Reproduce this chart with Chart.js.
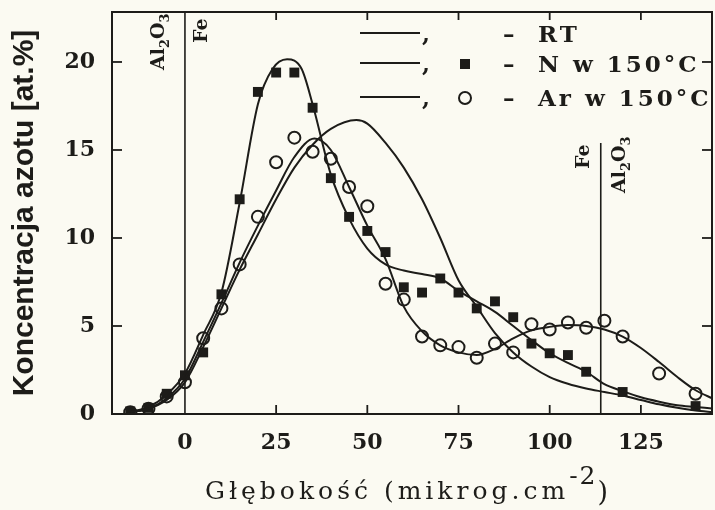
<!DOCTYPE html>
<html>
<head>
<meta charset="utf-8">
<script src="https://cdn.jsdelivr.net/npm/chart.js@4/dist/chart.umd.min.js"></script>
<style>
  html, body { margin: 0; padding: 0; background: #fbfaf2; overflow: hidden; }
  canvas { display: block; }
</style>
</head>
<body>
<canvas id="profile" width="720" height="510" style="width:720px;height:510px"></canvas>
<script>
// Measured nitrogen concentration [at.%] vs depth [µg/cm²]
const depthN     = [-15, -10, -5, 0, 5, 10, 15, 20, 25, 30, 35, 40, 45, 50, 55, 60, 65, 70, 75, 80, 85, 90, 95, 100, 105, 110, 120, 140];
const nitrogenN  = [0.15, 0.35, 1.15, 2.2, 3.5, 6.8, 12.2, 18.3, 19.4, 19.4, 17.4, 13.4, 11.2, 10.4, 9.2, 7.2, 6.9, 7.7, 6.9, 6.0, 6.4, 5.5, 4.0, 3.45, 3.35, 2.4, 1.25, 0.45];

const depthAr    = [-15, -10, -5, 0, 5, 10, 15, 20, 25, 30, 35, 40, 45, 50, 55, 60, 65, 70, 75, 80, 85, 90, 95, 100, 105, 110, 115, 120, 130, 140];
const nitrogenAr = [0.1, 0.3, 1.0, 1.8, 4.3, 6.0, 8.5, 11.2, 14.3, 15.7, 14.9, 14.5, 12.9, 11.8, 7.4, 6.5, 4.4, 3.9, 3.8, 3.2, 4.0, 3.5, 5.1, 4.8, 5.2, 4.9, 5.3, 4.4, 2.3, 1.15];

// Smooth profile curves
const fitDepthRT = [-15, -10, -5, 0, 5, 10, 15, 20, 25, 30, 35, 40, 47, 50, 55, 60, 65, 70, 75, 80, 85, 90, 95, 100, 105, 110, 115, 120, 125, 130, 135, 140, 145];
const fitRT      = [0.1, 0.3, 0.8, 1.8, 3.8, 6.0, 8.2, 10.2, 12.2, 14.0, 15.3, 16.2, 16.7, 16.5, 15.4, 14.0, 12.2, 10.0, 7.6, 6.1, 4.6, 3.5, 2.7, 2.1, 1.72, 1.45, 1.25, 1.05, 0.8, 0.55, 0.35, 0.2, 0.1];

const fitDepthN  = [-15, -10, -5, 0, 5, 10, 15, 20, 24, 28, 32, 35, 40, 45, 50, 55, 60, 65, 70, 75, 80, 85, 90, 95, 100, 105, 110, 115, 120, 125, 130, 135, 140, 145];
const fitN       = [0.12, 0.4, 1.1, 2.3, 4.5, 6.9, 12.0, 17.6, 19.6, 20.15, 19.6, 17.6, 13.6, 11.1, 9.4, 8.5, 8.15, 7.95, 7.7, 7.0, 6.4, 5.8, 5.0, 4.2, 3.45, 2.9, 2.4, 1.7, 1.3, 0.95, 0.7, 0.5, 0.4, 0.3];

const fitDepthAr = [-15, -10, -5, 0, 5, 10, 15, 20, 25, 30, 35.5, 40, 45, 50, 55, 60, 65, 70, 75, 80, 85, 90, 95, 100, 105, 110, 115, 120, 125, 130, 135, 140, 145];
const fitAr      = [0.1, 0.3, 0.9, 2.0, 4.1, 6.3, 8.6, 10.7, 12.7, 14.6, 15.65, 15.0, 12.9, 10.7, 8.8, 6.1, 4.7, 3.9, 3.5, 3.35, 3.7, 4.3, 4.75, 4.95, 5.05, 5.0, 4.8, 4.4, 3.75, 2.95, 2.1, 1.35, 0.85];

// Axis ticks
const xTickValues = [0, 25, 50, 75, 100, 125];
const yTickValues = [0, 5, 10, 15, 20];

// Fe / Al2O3 interfaces (depth)
const interfaceDepth = [0, 114];

const legendRows = ['RT', 'N w 150°C', 'Ar w 150°C'];

const ink = '#1d1c19';
const paper = '#fbfaf2';

const toPoints = (xs, ys) => xs.map((x, i) => ({ x, y: ys[i] }));

const curve = {
  showLine: true, pointRadius: 0, borderColor: ink, borderWidth: 2,
  cubicInterpolationMode: 'monotone', fill: false
};

function line(ctx, x1, y1, x2, y2) {
  ctx.beginPath(); ctx.moveTo(x1, y1); ctx.lineTo(x2, y2); ctx.stroke();
}

// Rotated (bottom-to-top) label with subscripts
function rotatedFormula(ctx, parts, x, y, size) {
  ctx.save();
  ctx.translate(x, y);
  ctx.rotate(-Math.PI / 2);
  ctx.textAlign = 'left';
  ctx.textBaseline = 'alphabetic';
  let cx = 0;
  for (const p of parts) {
    ctx.font = 'bold ' + (p.sub ? Math.round(size * 0.7) : size) + 'px "DejaVu Serif"';
    ctx.fillText(p.t, cx, p.sub ? size * 0.28 : 0);
    cx += ctx.measureText(p.t).width;
  }
  ctx.restore();
}

const paperPlugin = {
  id: 'paper',
  beforeDraw(chart) {
    const { ctx, width, height } = chart;
    ctx.save();
    ctx.fillStyle = paper;
    ctx.fillRect(0, 0, width, height);
    ctx.restore();
  }
};

const framePlugin = {
  id: 'frame',
  afterDatasetsDraw(chart) {
    const { ctx, chartArea: { left, right, top, bottom }, scales: { x, y } } = chart;
    ctx.save();
    ctx.strokeStyle = ink;
    ctx.fillStyle = ink;
    ctx.lineWidth = 2;
    ctx.strokeRect(left, top, right - left, bottom - top);

    // inward tick marks on all four sides
    ctx.lineWidth = 1.8;
    for (const v of xTickValues) {
      if (v === 0) continue;
      const px = x.getPixelForValue(v);
      line(ctx, px, bottom, px, bottom - 9);
      line(ctx, px, top, px, top + 8);
    }
    for (const v of yTickValues) {
      if (v === 0) continue;
      const py = y.getPixelForValue(v);
      line(ctx, left, py, left + 10, py);
      line(ctx, right, py, right - 10, py);
    }

    // interfaces
    ctx.lineWidth = 1.6;
    const i0 = x.getPixelForValue(interfaceDepth[0]);
    const i1 = x.getPixelForValue(interfaceDepth[1]);
    line(ctx, i0, top, i0, bottom);
    line(ctx, i1, y.getPixelForValue(15.4), i1, bottom);

    const al = [{ t: 'Al' }, { t: '2', sub: true }, { t: 'O' }, { t: '3', sub: true }];
    rotatedFormula(ctx, al, i0 - 21, top + 58, 19);
    rotatedFormula(ctx, [{ t: 'Fe' }], i0 + 22, top + 31, 19);
    rotatedFormula(ctx, [{ t: 'Fe' }], i1 - 12, top + 157, 19);
    rotatedFormula(ctx, al, i1 + 24, top + 181, 19);
    ctx.restore();
  },
  afterDraw(chart) {
    const { ctx, chartArea: { top, bottom } } = chart;
    ctx.save();
    ctx.fillStyle = ink;
    ctx.strokeStyle = ink;

    // legend
    const rowBase = [42, 72, 106];
    legendRows.forEach((label, i) => {
      const yb = rowBase[i];
      ctx.lineWidth = 2;
      line(ctx, 360, yb - 9, 420, yb - 9);
      ctx.letterSpacing = '0px';
      ctx.font = 'bold 23px "DejaVu Serif"';
      ctx.textAlign = 'left';
      ctx.textBaseline = 'alphabetic';
      ctx.fillText(',', 422, yb);
      if (i === 1) {
        ctx.fillRect(460, yb - 13, 10, 10);
      } else if (i === 2) {
        ctx.lineWidth = 2;
        ctx.beginPath();
        ctx.arc(465, yb - 8, 6, 0, Math.PI * 2);
        ctx.stroke();
      }
      ctx.fillText('–', 503, yb);
      ctx.letterSpacing = '3px';
      ctx.fillText(label, 538, yb);
    });

    // x axis title with superscript
    ctx.font = '25px "DejaVu Serif"';
    ctx.letterSpacing = '4px';
    ctx.textAlign = 'left';
    const main = 'Głębokość (mikrog.cm';
    const x0 = 205, base = 499;
    ctx.fillText(main, x0, base);
    let cx = x0 + ctx.measureText(main).width;
    ctx.letterSpacing = '2px';
    ctx.fillText('-2', cx, base - 15);
    cx += ctx.measureText('-2').width;
    ctx.font = '27px "DejaVu Serif"';
    ctx.fillText(')', cx, base + 2);

    // y axis title
    ctx.letterSpacing = '0px';
    ctx.font = 'bold 30px "Liberation Sans"';
    ctx.translate(33, (top + bottom) / 2);
    ctx.rotate(-Math.PI / 2);
    ctx.textAlign = 'center';
    ctx.textBaseline = 'alphabetic';
    ctx.fillText('Koncentracja azotu [at.%]', 0, 0);
    ctx.restore();
  }
};

new Chart(document.getElementById('profile'), {
  type: 'scatter',
  data: {
    datasets: [
      { label: 'RT', data: toPoints(fitDepthRT, fitRT), ...curve },
      { label: 'N w 150°C (krzywa)', data: toPoints(fitDepthN, fitN), ...curve },
      { label: 'Ar w 150°C (krzywa)', data: toPoints(fitDepthAr, fitAr), ...curve },
      { label: 'N w 150°C', data: toPoints(depthN, nitrogenN), showLine: false,
        pointStyle: 'rect', pointRadius: 7, backgroundColor: ink, borderColor: ink, borderWidth: 0 },
      { label: 'Ar w 150°C', data: toPoints(depthAr, nitrogenAr), showLine: false,
        pointStyle: 'circle', pointRadius: 6, backgroundColor: 'rgba(0,0,0,0)', borderColor: ink, borderWidth: 2 }
    ]
  },
  options: {
    responsive: false,
    animation: false,
    events: [],
    layout: { padding: { top: 12, right: 3, left: 0, bottom: 0 } },
    plugins: { legend: { display: false }, tooltip: { enabled: false } },
    scales: {
      x: {
        type: 'linear', min: -20, max: 144.5,
        afterBuildTicks: s => { s.ticks = xTickValues.map(v => ({ value: v })); },
        afterFit: s => { s.height = 96; s.paddingLeft = 0; s.paddingRight = 0; },
        grid: { display: false, drawTicks: false },
        border: { display: false },
        ticks: { color: ink, padding: 16, maxRotation: 0, autoSkip: false,
                 font: { family: 'DejaVu Serif', weight: 'bold', size: 22 } }
      },
      y: {
        type: 'linear', min: 0, max: 22.84,
        afterBuildTicks: s => { s.ticks = yTickValues.map(v => ({ value: v })); },
        afterFit: s => { s.width = 112; s.paddingTop = 0; s.paddingBottom = 0; },
        grid: { display: false, drawTicks: false },
        border: { display: false },
        ticks: { color: ink, padding: 17, autoSkip: false,
                 font: { family: 'DejaVu Serif', weight: 'bold', size: 22 } }
      }
    }
  },
  plugins: [paperPlugin, framePlugin]
});
</script>
</body>
</html>
